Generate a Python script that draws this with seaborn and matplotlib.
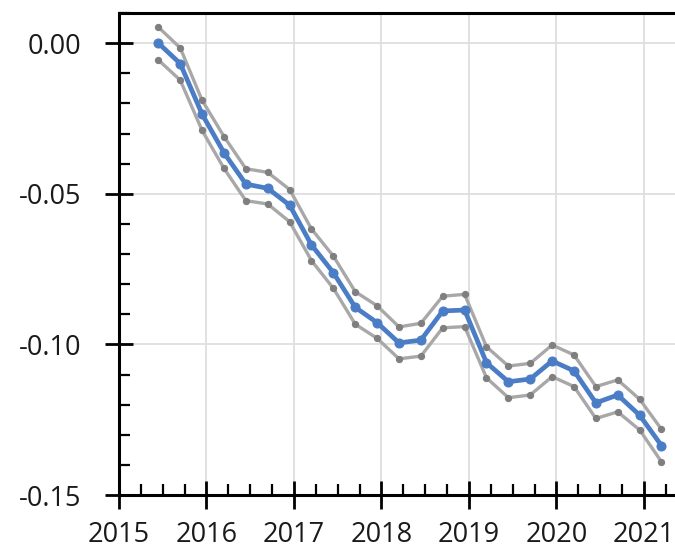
import numpy as np
import pandas as pd
import matplotlib
matplotlib.use("Agg")
import matplotlib.pyplot as plt
import seaborn as sns
from matplotlib.ticker import MultipleLocator, FixedLocator

# Quarterly observation dates (decimal years)
dates = [2015.45, 2015.70, 2015.95, 2016.20, 2016.45, 2016.70, 2016.95, 2017.20,
         2017.45, 2017.70, 2017.95, 2018.20, 2018.45, 2018.70, 2018.95, 2019.20,
         2019.45, 2019.70, 2019.95, 2020.20, 2020.45, 2020.70, 2020.95, 2021.20]

# Point estimate
estimate = [0.000, -0.0068, -0.0236, -0.0364, -0.0468, -0.0482, -0.0538, -0.0670,
            -0.0762, -0.0877, -0.0928, -0.0995, -0.0986, -0.0889, -0.0886, -0.1061,
            -0.1124, -0.1115, -0.1055, -0.1088, -0.1194, -0.1168, -0.1235, -0.1336]

# Upper and lower bounds
upper = [0.0053, -0.0016, -0.0190, -0.0310, -0.0417, -0.0429, -0.0486, -0.0617,
         -0.0707, -0.0825, -0.0872, -0.0942, -0.0930, -0.0840, -0.0834, -0.1008,
         -0.1072, -0.1063, -0.1002, -0.1035, -0.1140, -0.1118, -0.1182, -0.1282]
lower = [-0.0056, -0.0123, -0.0290, -0.0416, -0.0523, -0.0534, -0.0593, -0.0722,
         -0.0814, -0.0933, -0.0980, -0.1048, -0.1039, -0.0945, -0.0941, -0.1111,
         -0.1177, -0.1168, -0.1107, -0.1140, -0.1246, -0.1224, -0.1284, -0.1390]

y_ticks = [0.00, -0.05, -0.10, -0.15]
y_tick_labels = ["0.00", "-0.05", "-0.10", "-0.15"]
x_ticks = [2015, 2016, 2017, 2018, 2019, 2020, 2021]

sns.set_style("white")
plt.rcParams["font.family"] = ["Open Sans", "DejaVu Sans"]
plt.rcParams["axes.unicode_minus"] = False

df = pd.DataFrame({"date": dates, "estimate": estimate,
                   "upper": upper, "lower": lower})

fig = plt.figure(figsize=(6.75, 5.51), dpi=100)
ax = fig.add_axes([119 / 675, 56 / 551, 560 / 675, 482 / 551])

band_line = "#A8A8A8"
band_mark = "#7F7F7F"
main_col = "#4A7DC5"

for col in ["upper", "lower"]:
    sns.lineplot(data=df, x="date", y=col, ax=ax, color=band_line, linewidth=2.4,
                 marker="o", markersize=4.5, markerfacecolor=band_mark,
                 markeredgecolor=band_mark, zorder=3)
sns.lineplot(data=df, x="date", y="estimate", ax=ax, color=main_col, linewidth=3.4,
             marker="o", markersize=6.5, markerfacecolor=main_col,
             markeredgecolor=main_col, zorder=4)

ax.set_xlim(2015, 2021.4)
ax.set_ylim(-0.15, 0.01)
ax.set_xlabel("")
ax.set_ylabel("")

ax.xaxis.set_major_locator(FixedLocator(x_ticks))
ax.xaxis.set_minor_locator(MultipleLocator(0.25))
ax.set_xticklabels([str(t) for t in x_ticks])
ax.yaxis.set_major_locator(FixedLocator(y_ticks))
ax.yaxis.set_minor_locator(MultipleLocator(0.01))
ax.set_yticklabels(y_tick_labels)

ax.grid(True, which="major", color="#DEDEDE", linewidth=1.3, zorder=0)
ax.set_axisbelow(True)

for side in ["left", "bottom", "top"]:
    ax.spines[side].set_visible(True)
    ax.spines[side].set_color("black")
    ax.spines[side].set_linewidth(2.2)
ax.spines["right"].set_visible(False)

ax.tick_params(axis="x", which="both", bottom=True, top=False)
ax.tick_params(axis="y", which="both", left=True, right=False)
ax.tick_params(axis="both", which="major", direction="inout", length=20, width=2,
               color="black", labelsize=19.5, labelcolor="#1a1a1a")
ax.tick_params(axis="both", which="minor", direction="in", length=8, width=1.6,
               color="black")
ax.tick_params(axis="x", which="major", pad=9)
ax.tick_params(axis="y", which="major", pad=17)

fig.savefig("out.png", dpi=100)
